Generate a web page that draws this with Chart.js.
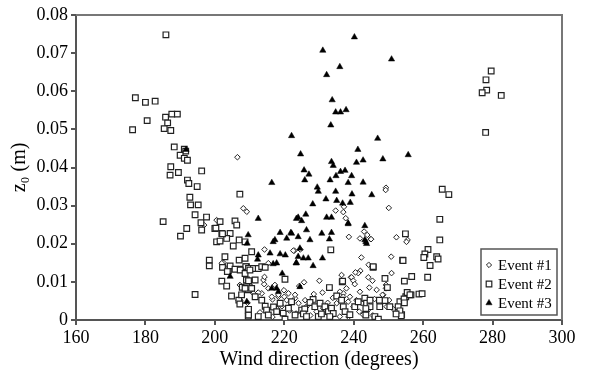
<!DOCTYPE html>
<html lang="en">
<head>
    <meta charset="UTF-8">
    <title>Roughness length vs wind direction</title>
    <script src="https://cdn.jsdelivr.net/npm/chart.js"></script>
    <style>
        body { margin: 0; background: #fff; }
        #wrap { width: 592px; height: 376px; }
    </style>
</head>
<body>
    <div id="wrap"><canvas id="myChart"></canvas></div>
    <script>
        // [wind direction (deg), z0 (m)]
        const event1 = [
            [206.5,0.0427],[196.9,0.0249],[200.5,0.0262],[208.2,0.0293],[209.2,0.0284],
            [214.3,0.0185],[215.4,0.0149],[222.9,0.0182],[224.6,0.0185],[202.5,0.0150],
            [203.9,0.0126],[202.9,0.0138],[210.9,0.0105],[214.2,0.0094],[206.8,0.0052],
            [211.1,0.0070],[220.0,0.0061],[217.3,0.0092],[221.2,0.0070],[207.3,0.0052],
            [209.4,0.0045],[213.5,0.0070],[216.6,0.0054],[218.3,0.0061],[220.7,0.0052],
            [223.1,0.0057],[224.1,0.0044],[219.3,0.0036],[215.4,0.0083],[212.5,0.0072],
            [249.3,0.0347],[249.2,0.0341],[250.1,0.0294],[234.8,0.0287],[237.0,0.0283],
            [237.7,0.0267],[237.2,0.0297],[238.6,0.0218],[241.8,0.0214],[243.0,0.0232],
            [244.9,0.0212],[243.9,0.0223],[245.0,0.0212],[252.3,0.0217],[255.5,0.0210],
            [242.2,0.0164],[250.8,0.0166],[244.3,0.0145],[241.9,0.0129],[241.3,0.0123],
            [250.9,0.0123],[239.2,0.0112],[230.1,0.0103],[225.7,0.0099],[224.3,0.0089],
            [249.3,0.0092],[249.3,0.0083],[248.5,0.0066],[249.5,0.0035],[237.0,0.0070],
            [239.4,0.0112],[239.9,0.0103],[240.3,0.0094],[237.9,0.0083],[241.8,0.0074],
            [238.9,0.0061],[240.8,0.0052],[242.3,0.0044],[244.2,0.0112],[245.4,0.0103],
            [244.5,0.0085],[246.6,0.0079],[248.3,0.0066],[236.0,0.0074],[237.0,0.0061],
            [238.4,0.0048],[239.9,0.0035],[241.6,0.0022],[242.7,0.0014],[235.1,0.0044],
            [231.2,0.0031],[229.3,0.0022],[226.4,0.0035],[225.0,0.0022],[236.0,0.0009],
            [255.2,0.0205],[202.0,0.0149],[207.2,0.0092],[210.6,0.0087],[207.5,0.0045],
            [214.0,0.0105],[214.3,0.0113],[216.4,0.0061],[216.6,0.0008],[218.3,0.0066],
            [219.9,0.0078],[223.1,0.0066],[223.4,0.0017],[222.6,0.0182],[221.5,0.0025],
            [218.0,0.0028],[213.0,0.0020],[227.5,0.0012],[232.5,0.0045],[234.0,0.0058],
            [228.5,0.0068],[231.0,0.0072],[226.0,0.0052],[246.0,0.0055],[247.5,0.0045],
            [244.0,0.0025],[245.5,0.0012],[250.2,0.0052],[251.5,0.0028],[233.8,0.0012],
            [238.5,0.0008],[240.5,0.0125],[236.5,0.0118]
        ];
        const event2 = [
            [185.9,0.0748],[177.1,0.0583],[180.0,0.0571],[182.8,0.0574],[180.5,0.0523],
            [176.3,0.0499],[185.8,0.0532],[186.4,0.0517],[187.6,0.0540],[189.2,0.0540],
            [185.4,0.0502],[187.3,0.0497],[188.3,0.0454],[191.2,0.0448],[191.6,0.0443],
            [190.0,0.0432],[191.2,0.0424],[192.1,0.0419],[187.3,0.0402],[187.1,0.0380],
            [189.5,0.0387],[196.2,0.0391],[192.1,0.0367],[192.5,0.0358],[194.9,0.0350],
            [185.1,0.0258],[190.1,0.0220],[191.9,0.0240],[192.8,0.0322],[193.0,0.0302],
            [195.2,0.0302],[194.3,0.0276],[196.0,0.0255],[196.2,0.0236],[197.6,0.0270],
            [198.4,0.0157],[198.4,0.0142],[194.3,0.0067],[200.0,0.0240],[201.5,0.0258],
            [200.5,0.0205],[201.5,0.0207],[202.0,0.0227],[204.4,0.0227],[203.4,0.0214],
            [202.9,0.0166],[202.2,0.0138],[203.9,0.0129],[205.3,0.0194],[205.8,0.0260],
            [206.3,0.0249],[207.2,0.0330],[207.0,0.0210],[204.4,0.0142],[205.8,0.0133],
            [202.0,0.0102],[203.4,0.0089],[204.8,0.0063],[207.0,0.0157],[208.7,0.0162],
            [207.6,0.0133],[209.1,0.0140],[207.9,0.0086],[209.1,0.0105],[209.6,0.0079],
            [209.6,0.0026],[209.6,0.0010],[206.9,0.0052],[207.2,0.0042],[200.3,0.0241],
            [202.2,0.0226],[208.7,0.0205],[210.6,0.0179],[203.6,0.0127],[208.9,0.0140],
            [209.7,0.0135],[211.1,0.0135],[212.5,0.0135],[213.5,0.0140],[214.5,0.0138],
            [220.2,0.0107],[209.2,0.0087],[209.7,0.0103],[211.6,0.0105],[208.7,0.0083],
            [210.6,0.0083],[207.7,0.0066],[211.6,0.0061],[213.5,0.0052],[214.5,0.0036],
            [214.9,0.0026],[215.4,0.0013],[209.7,0.0013],[209.7,0.0028],[216.9,0.0034],
            [217.8,0.0022],[218.8,0.0044],[219.7,0.0018],[221.2,0.0031],[222.1,0.0048],
            [223.1,0.0013],[225.0,0.0026],[212.5,0.0009],[220.2,0.0002],[207.3,0.0131],
            [208.7,0.0122],[210.1,0.0131],[228.3,0.0054],[227.4,0.0046],[228.8,0.0035],
            [225.9,0.0029],[230.3,0.0044],[231.7,0.0035],[232.7,0.0022],[233.6,0.0031],
            [234.1,0.0017],[225.5,0.0016],[226.4,0.0009],[229.8,0.0009],[230.7,0.0016],
            [233.1,0.0009],[235.1,0.0063],[236.5,0.0052],[237.0,0.0035],[237.5,0.0022],
            [238.9,0.0014],[240.3,0.0035],[241.3,0.0048],[243.2,0.0057],[243.7,0.0044],
            [244.7,0.0035],[246.1,0.0009],[247.5,0.0035],[249.7,0.0085],[250.4,0.0035],
            [253.3,0.0048],[253.8,0.0014],[255.0,0.0061],[233.4,0.0184],[236.7,0.0100],
            [233.0,0.0085],[245.6,0.0138],[254.1,0.0157],[254.9,0.0226],[249.0,0.0109],
            [245.6,0.0140],[236.8,0.0102],[255.4,0.0072],[256.5,0.0066],[258.8,0.0068],
            [259.7,0.0069],[254.5,0.0055],[254.6,0.0045],[252.8,0.0035],[253.3,0.0024],
            [253.7,0.0011],[252.2,0.0016],[249.0,0.0051],[247.1,0.0002],[247.4,0.0052],
            [244.7,0.0052],[243.5,0.0030],[243.5,0.0013],[265.5,0.0343],[267.4,0.0329],
            [264.8,0.0264],[264.8,0.0210],[263.9,0.0166],[264.3,0.0160],[261.4,0.0185],
            [260.5,0.0173],[262.0,0.0143],[261.3,0.0112],[260.2,0.0164],[254.2,0.0156],
            [256.7,0.0114],[254.6,0.0102],[256.2,0.0066],[279.6,0.0653],[278.1,0.0630],
            [278.3,0.0603],[277.0,0.0596],[282.5,0.0589],[278.0,0.0492]
        ];
        const event3 = [
            [240.2,0.0742],[231.1,0.0707],[250.9,0.0684],[236.0,0.0664],[232.2,0.0643],
            [233.8,0.0577],[234.8,0.0545],[236.2,0.0545],[237.8,0.0551],[233.4,0.0511],
            [222.1,0.0483],[246.9,0.0476],[241.2,0.0447],[224.7,0.0435],[255.7,0.0433],
            [248.4,0.0422],[233.6,0.0415],[234.1,0.0405],[242.7,0.0419],[240.8,0.0413],
            [225.7,0.0393],[227.1,0.0382],[225.9,0.0367],[236.2,0.0389],[237.5,0.0392],
            [234.9,0.0378],[239.4,0.0378],[233.2,0.0367],[238.4,0.0360],[242.7,0.0361],
            [229.5,0.0348],[216.4,0.0360],[229.8,0.0337],[234.8,0.0337],[239.5,0.0330],
            [245.2,0.0328],[232.0,0.0317],[235.1,0.0313],[236.8,0.0306],[239.0,0.0308],
            [228.2,0.0304],[226.2,0.0277],[224.0,0.0269],[225.0,0.0260],[232.2,0.0269],
            [233.6,0.0269],[238.4,0.0252],[243.2,0.0247],[222.1,0.0227],[224.0,0.0218],
            [227.4,0.0210],[230.8,0.0227],[233.6,0.0229],[233.0,0.0212],[243.2,0.0210],
            [243.7,0.0200],[224.5,0.0188],[224.0,0.0166],[226.9,0.0162],[225.5,0.0162],
            [231.0,0.0162],[223.4,0.0149],[228.3,0.0142],[224.5,0.0087],[212.5,0.0266],
            [209.6,0.0223],[209.3,0.0201],[218.8,0.0229],[216.8,0.0205],[217.3,0.0210],
            [221.9,0.0229],[220.7,0.0214],[223.5,0.0266],[215.9,0.0175],[218.8,0.0173],
            [220.3,0.0170],[223.5,0.0150],[212.5,0.0170],[212.3,0.0159],[217.8,0.0149],
            [216.8,0.0147],[204.4,0.0114],[219.4,0.0122],[216.4,0.0083],[217.8,0.0083],
            [218.3,0.0074],[209.2,0.0048],[191.7,0.0447],[226.4,0.0236],[238.4,0.0254],
            [243.5,0.0205]
        ];
        const seriesNames = ['Event #1', 'Event #2', 'Event #3'];
        const xTicks = [160, 180, 200, 220, 240, 260, 280, 300];
        const yTicks = [0, 0.01, 0.02, 0.03, 0.04, 0.05, 0.06, 0.07, 0.08];

        const serif = "'Liberation Serif', 'DejaVu Serif', serif";
        const toPoints = arr => arr.map(p => ({ x: p[0], y: p[1] }));

        const styles = [
            { pointStyle: 'rectRot', radius: 2.8, fill: '#fff', stroke: '#222', bw: 1 },
            { pointStyle: 'rect', radius: 4, fill: '#fff', stroke: '#222', bw: 1.2 },
            { pointStyle: 'triangle', radius: 3.6, fill: '#000', stroke: '#000', bw: 0.5 }
        ];

        // frame on top/right + boxed legend inside the plot
        const framePlugin = {
            id: 'frame',
            afterDraw(chart) {
                const { ctx, chartArea: a } = chart;
                ctx.save();
                ctx.strokeStyle = '#777';
                ctx.lineWidth = 2;
                ctx.beginPath();
                ctx.moveTo(a.left, a.top);
                ctx.lineTo(a.right, a.top);
                ctx.lineTo(a.right, a.bottom);
                ctx.stroke();

                const w = 76, h = 66;
                const bx = a.right - 81, by = a.bottom - 71;
                ctx.fillStyle = '#fff';
                ctx.fillRect(bx, by, w, h);
                ctx.strokeStyle = '#555';
                ctx.lineWidth = 1.5;
                ctx.strokeRect(bx, by, w, h);

                ctx.font = '15px ' + serif;
                ctx.textBaseline = 'middle';
                seriesNames.forEach((name, i) => {
                    const cy = by + 16 + i * 19;
                    const st = styles[i];
                    const px = bx + 8;
                    ctx.fillStyle = st.fill;
                    ctx.strokeStyle = st.stroke;
                    ctx.lineWidth = st.bw;
                    ctx.beginPath();
                    if (st.pointStyle === 'rectRot') {
                        ctx.moveTo(px, cy - 2.6); ctx.lineTo(px + 2.6, cy);
                        ctx.lineTo(px, cy + 2.6); ctx.lineTo(px - 2.6, cy);
                        ctx.closePath();
                    } else if (st.pointStyle === 'rect') {
                        ctx.rect(px - 2.8, cy - 2.8, 5.6, 5.6);
                    } else {
                        ctx.moveTo(px, cy - 3.6); ctx.lineTo(px + 3.1, cy + 1.8);
                        ctx.lineTo(px - 3.1, cy + 1.8); ctx.closePath();
                    }
                    ctx.fill();
                    ctx.stroke();
                    ctx.fillStyle = '#000';
                    ctx.fillText(name, bx + 17, cy + 1);
                });
                ctx.restore();
            }
        };

        const ctx = document.getElementById('myChart').getContext('2d');
        new Chart(ctx, {
            type: 'scatter',
            data: {
                datasets: [event1, event2, event3].map((d, i) => ({
                    label: seriesNames[i],
                    data: toPoints(d),
                    pointStyle: styles[i].pointStyle,
                    pointRadius: styles[i].radius,
                    pointBackgroundColor: styles[i].fill,
                    pointBorderColor: styles[i].stroke,
                    pointBorderWidth: styles[i].bw,
                    order: 2 - i
                }))
            },
            options: {
                responsive: true,
                maintainAspectRatio: false,
                animation: false,
                layout: { padding: { top: 15, right: 30, left: 0, bottom: 0 } },
                plugins: {
                    legend: { display: false },
                    tooltip: { enabled: false }
                },
                scales: {
                    x: {
                        type: 'linear',
                        min: xTicks[0],
                        max: xTicks[xTicks.length - 1],
                        afterBuildTicks: s => { s.ticks = xTicks.map(v => ({ value: v })); },
                        afterFit: s => { s.height = 56; },
                        grid: { drawOnChartArea: false, color: '#555', lineWidth: 2, tickLength: 5 },
                        border: { color: '#555', width: 2 },
                        ticks: { color: '#000', font: { family: serif, size: 18 }, padding: 2, maxRotation: 0 },
                        title: {
                            display: true, text: 'Wind direction (degrees)', color: '#000',
                            font: { family: serif, size: 20 }, padding: { top: 0, bottom: 4 }
                        }
                    },
                    y: {
                        type: 'linear',
                        min: yTicks[0],
                        max: yTicks[yTicks.length - 1],
                        afterBuildTicks: s => { s.ticks = yTicks.map(v => ({ value: v })); },
                        afterFit: s => { s.width = 76; },
                        grid: { drawOnChartArea: false, color: '#555', lineWidth: 2, tickLength: 5 },
                        border: { color: '#555', width: 2 },
                        ticks: {
                            color: '#000', font: { family: serif, size: 18 }, padding: 3,
                            callback: v => v === 0 ? '0' : v.toFixed(2)
                        },
                        title: {
                            display: true, text: 'z\u2080 (m)', color: '#000',
                            font: { family: serif, size: 20 }, padding: { top: 8, bottom: 0 }
                        }
                    }
                }
            },
            plugins: [framePlugin]
        });
    </script>
</body>
</html>
